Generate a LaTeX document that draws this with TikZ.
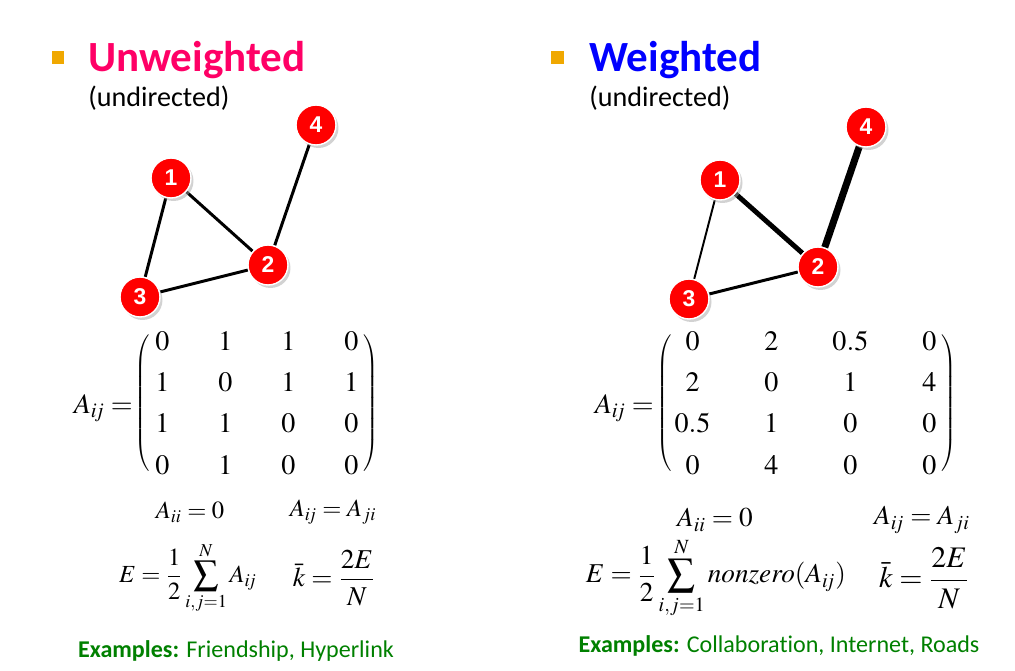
\documentclass[tikz,border=0pt]{standalone}
\usepackage{amsmath}
\usepackage{mathptmx}
\usepackage[no-math]{fontspec}
\setmainfont[Ligatures=NoCommon]{Carlito}
\newfontfamily\numfont{Liberation Sans}
\usetikzlibrary{matrix,shadows,backgrounds}
\definecolor{titlepink}{RGB}{255,0,102}
\definecolor{titleblue}{RGB}{0,0,255}
\definecolor{bulletgold}{RGB}{240,168,0}
\definecolor{examplegreen}{RGB}{0,128,0}
\definecolor{vertexred}{RGB}{255,0,0}
\newcommand{\idxij}{i\!j}

\begin{document}
\begin{tikzpicture}[x=0.02cm, y=-0.02cm,
  vertex/.style={circle, fill=vertexred, draw=white, line width=0.8pt, minimum size=0.8cm, inner sep=0pt,
    font=\numfont\bfseries\fontsize{13}{13}\selectfont, text=white,
    drop shadow={shadow xshift=0.05cm, shadow yshift=-0.06cm, fill=black!35}},
  link/.style={line width=1.7pt},
  bullet/.style={fill=bulletgold, minimum size=0.26cm, inner sep=0pt},
  title/.style={anchor=base west, inner sep=0pt, font=\bfseries\fontsize{24.5}{28}\selectfont},
  sub/.style={anchor=base west, inner sep=0pt, font=\fontsize{16}{18}\selectfont},
  adj/.style={matrix of math nodes, inner sep=0pt, left delimiter=(, right delimiter=), row sep=0.42cm,
    nodes={minimum height=0.4cm, minimum width=0.4cm, inner sep=0pt, font=\fontsize{16}{18}\selectfont}},
  eqU/.style={font=\fontsize{14}{17}\selectfont},
  eqW/.style={font=\fontsize{15.5}{18}\selectfont},
  example/.style={text=examplegreen, font=\fontsize{13.7}{16}\selectfont}]
  \useasboundingbox (0,0) rectangle (1015,671);

  % unweighted side
  \node[bullet] (bulU) at (58,58) {};
  \node[title, text=titlepink] (titU) at (88,72) {Unweighted};
  \node[sub] (subU) at (88,107) {(undirected)};

  \node[vertex] (u1) at (171,178) {1};
  \node[vertex] (u2) at (268,265) {2};
  \node[vertex] (u3) at (140,297) {3};
  \node[vertex] (u4) at (316,125) {4};
  \begin{scope}[on background layer]
    \draw[link] (u1) -- (u2);
    \draw[link] (u1) -- (u3);
    \draw[link] (u3) -- (u2);
    \draw[link] (u2) -- (u4);
  \end{scope}

  \node[eqU, anchor=east, font=\fontsize{16}{18}\selectfont] (aU) at (139,408) {$A_{\idxij}=$};
  \matrix (mU) [adj, column sep=0.86cm] at (257,403) {
    0 & 1 & 1 & 0 \\
    1 & 0 & 1 & 1 \\
    1 & 1 & 0 & 0 \\
    0 & 1 & 0 & 0 \\
  };

  \node[eqU] (diagU) at (190,512) {$A_{ii}=0$};
  \node[eqU] (symU) at (333,512) {$A_{\idxij}=A_{ji}$};
  \node[eqU] (edgeU) at (188,578) {$E=\dfrac{1}{2}\displaystyle\sum_{i,j=1}^{N}A_{\idxij}$};
  \node[eqU, font=\fontsize{15.5}{18}\selectfont] (degU) at (334,578) {$\bar{k}=\dfrac{2E}{N}$};
  \node[example] (exU) at (236,651) {\textbf{Examples:} Friendship, Hyperlink};

  % weighted side
  \node[bullet] (bulW) at (557,58) {};
  \node[title, text=titleblue] (titW) at (589,72) {Weighted};
  \node[sub] (subW) at (589,107) {(undirected)};

  \node[vertex] (w1) at (720,180) {1};
  \node[vertex] (w2) at (818,267) {2};
  \node[vertex] (w3) at (689,299) {3};
  \node[vertex] (w4) at (866,127) {4};
  \begin{scope}[on background layer]
    \draw[line width=1.1pt] (w1) -- (w3);
    \draw[line width=1.7pt] (w3) -- (w2);
    \draw[line width=2.8pt] (w1) -- (w2);
    \draw[line width=4pt] (w2) -- (w4);
  \end{scope}

  \node[eqW, anchor=east, font=\fontsize{16}{18}\selectfont] (aW) at (660,408) {$A_{\idxij}=$};
  \matrix (mW) [adj, column sep=1.02cm] at (807,403) {
    0 & 2 & 0.5 & 0 \\
    2 & 0 & 1 & 4 \\
    0.5 & 1 & 0 & 0 \\
    0 & 4 & 0 & 0 \\
  };

  \node[eqW] (diagW) at (715,520) {$A_{ii}=0$};
  \node[eqW] (symW) at (922,520) {$A_{\idxij}=A_{ji}$};
  \node[eqW] (edgeW) at (716,578) {$E=\dfrac{1}{2}\displaystyle\sum_{i,j=1}^{N}nonzero(A_{\idxij})$};
  \node[eqW, font=\fontsize{17}{20}\selectfont] (degW) at (924,578) {$\bar{k}=\dfrac{2E}{N}$};
  \node[example] (exW) at (779,646) {\textbf{Examples:} Collaboration, Internet, Roads};
\end{tikzpicture}
\end{document}
